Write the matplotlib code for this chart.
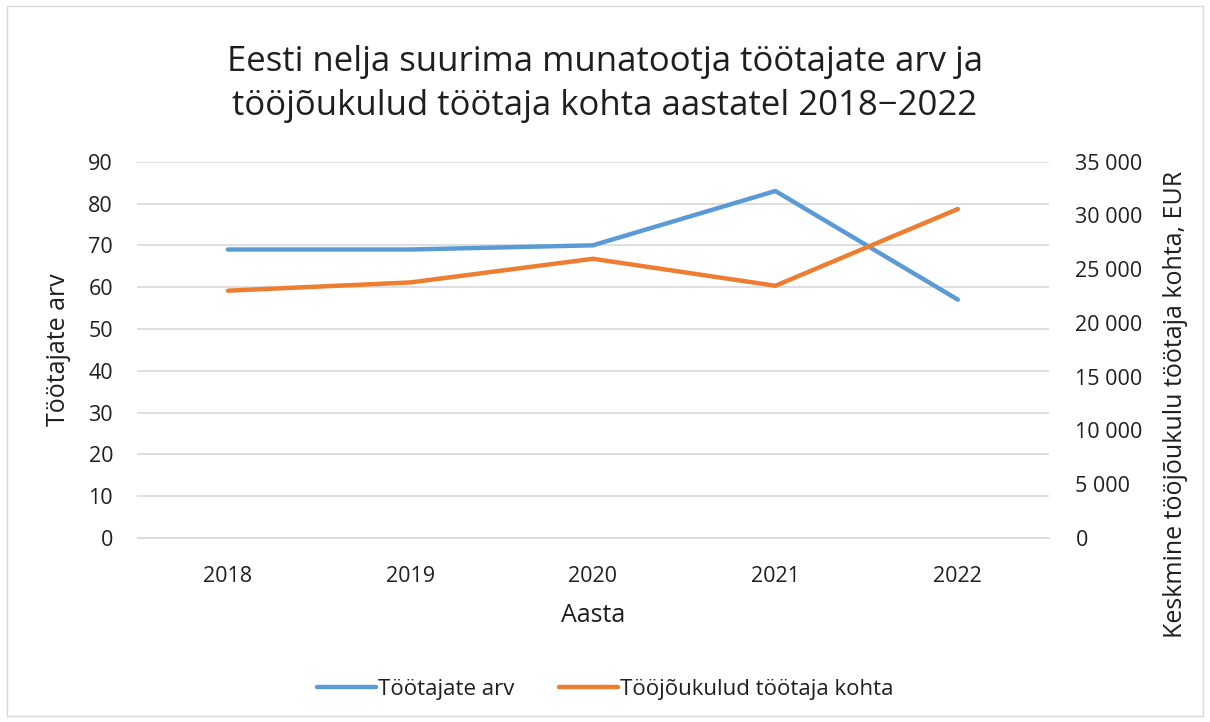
import matplotlib.pyplot as plt
from matplotlib.patches import Rectangle
from matplotlib.ticker import FuncFormatter

plt.rcParams['font.family'] = ['Open Sans', 'DejaVu Sans']

aastad = ["2018", "2019", "2020", "2021", "2022"]
tootajad = [69, 69, 70, 83, 57]
tooj_kulud = [23000, 23770, 25970, 23460, 30600]

sinine = "#5b9bd5"
oranz = "#ed7d31"
tekst = "#1f1f1f"

fig = plt.figure(figsize=(12.1, 7.22), dpi=100)
fig.patches.append(Rectangle((0.006, 0.008), 0.988, 0.984, transform=fig.transFigure,
                             fill=False, edgecolor="#d9d9d9", linewidth=1))
ax = fig.add_axes([0.113, 0.255, 0.754, 0.521])
ax2 = ax.twinx()

x = range(len(aastad))
l1, = ax.plot(x, tootajad, color=sinine, linewidth=3.2, solid_capstyle="round",
              label="Töötajate arv")
l2, = ax2.plot(x, tooj_kulud, color=oranz, linewidth=3.2, solid_capstyle="round",
               label="Tööjõukulud töötaja kohta")

ax.set_xlim(-0.5, 4.5)
ax.set_ylim(0, 90)
ax.set_yticks(range(0, 91, 10))
ax2.set_ylim(0, 35000)
ax2.set_yticks(range(0, 35001, 5000))
ax2.yaxis.set_major_formatter(FuncFormatter(lambda v, p: f"{int(v):,}".replace(",", " ")))
ax.set_xticks(list(x))
ax.set_xticklabels(aastad)

ax.grid(axis="y", color="#d9d9d9", linewidth=1.2)
ax.set_axisbelow(True)
for a in (ax, ax2):
    for s in a.spines.values():
        s.set_visible(False)
    a.tick_params(length=0, labelsize=15.5, labelcolor=tekst)
ax.spines["bottom"].set_visible(True)
ax.spines["bottom"].set_color("#d9d9d9")
ax.tick_params(axis="x", pad=20)
ax.tick_params(axis="y", pad=17)
ax2.tick_params(axis="y", pad=19)

ax.set_xlabel("Aasta", fontsize=18, labelpad=12, color=tekst)
ax.set_ylabel("Töötajate arv", fontsize=18, color=tekst)
ax.yaxis.set_label_coords(-0.072, 0.5)
ax2.set_ylabel("Keskmine tööjõukulu töötaja kohta, EUR", fontsize=18, color=tekst)
ax2.yaxis.set_label_coords(1.125, 0.354)

fig.text(0.5, 0.884,
         "Eesti nelja suurima munatootja töötajate arv ja\ntööjõukulud töötaja kohta aastatel 2018\u22122022",
         fontsize=25, ha="center", va="center", linespacing=1.4, color=tekst)

fig.legend(handles=[l1, l2], loc="center", bbox_to_anchor=(0.5, 0.045), ncol=2,
           frameon=False, fontsize=16, handlelength=2.65, columnspacing=2.0,
           handletextpad=0.1, labelcolor=tekst)

fig.savefig("out.png", dpi=100)
